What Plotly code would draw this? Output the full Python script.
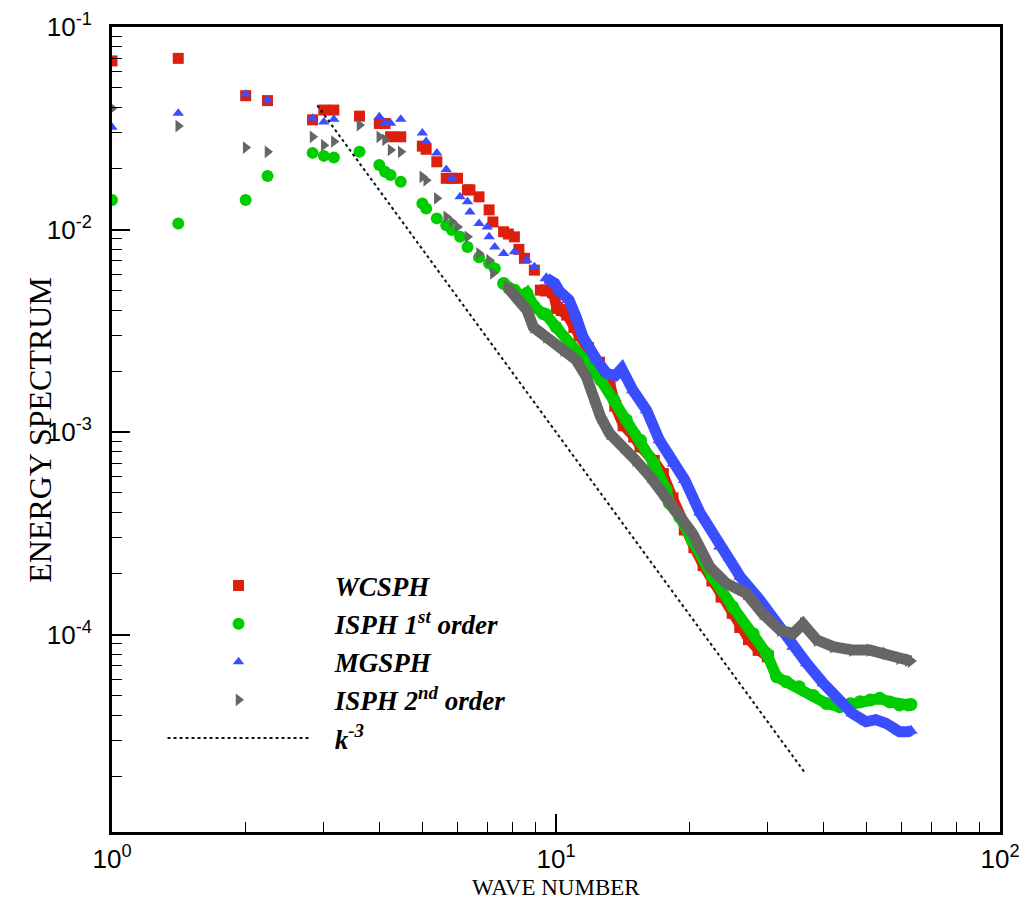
import plotly.graph_objects as go

# ---------------- data ----------------
# WCSPH
wcsph_sparse_k = [1.0, 1.41, 2.0, 2.24, 2.83, 3.0, 3.16, 3.61, 4.0, 4.12, 4.24, 4.47, 5.0, 5.1,
                  5.39, 5.66, 5.83, 6.0, 6.32, 6.4, 6.71, 7.07, 7.21, 7.62, 7.81, 8.06, 8.25,
                  8.49, 8.94, 9.22]
wcsph_sparse_e = [0.068, 0.070, 0.0458, 0.0433, 0.0348, 0.0389, 0.0389, 0.0363, 0.0334, 0.0334,
                  0.0287, 0.0287, 0.0258, 0.0249, 0.0216, 0.0179, 0.0179, 0.0179, 0.0157, 0.0157,
                  0.0145, 0.0125, 0.0109, 0.00975, 0.0095, 0.0092, 0.00798, 0.00721, 0.0063, 0.00502]
wcsph_band_k = [9.49, 9.85, 10.05, 10.3, 10.6, 11.0, 11.3, 11.8, 12.5, 13.2, 13.6, 14.2, 15.0,
                15.5, 16.6, 17.4, 18.3, 19.5, 20.5, 21.5, 22.5, 23.6, 25.0, 26.0, 27.2, 28.6, 30.0]
wcsph_band_e = [0.0050, 0.0049, 0.0041, 0.0040, 0.0038, 0.0033, 0.0030, 0.0026, 0.0022, 0.00174,
                0.00135, 0.00108, 0.00095, 0.00085, 0.00072, 0.00062, 0.00047, 0.00033, 0.00027,
                0.00022, 0.000185, 0.000154, 0.000128, 0.000109, 0.000095, 0.000084, 0.000078]

# ISPH 1st order
isph1_sparse_k = [1.0, 1.41, 2.0, 2.24, 2.83, 3.0, 3.16, 3.61, 4.0, 4.12, 4.24, 4.47, 5.0, 5.1,
                  5.39, 5.66, 5.83, 6.08, 6.32, 6.71, 7.07, 7.28]
isph1_sparse_e = [0.0140, 0.0107, 0.0140, 0.0184, 0.0239, 0.0231, 0.0227, 0.0242, 0.0208, 0.0193,
                  0.0186, 0.0172, 0.01345, 0.0127, 0.01135, 0.0105, 0.00995, 0.0092, 0.0082,
                  0.0073, 0.0068, 0.00642]
isph1_band_k = [7.62, 8.06, 8.43, 8.6, 8.94, 9.34, 9.5, 10.0, 10.8, 11.6, 12.6, 13.5, 14.4, 15.5,
                16.6, 17.7, 18.0, 19.0, 20.3, 22.5, 25.0, 27.8, 29.8, 31.4, 33.0, 35.3, 38.0,
                40.6, 43.5, 46.0, 48.4, 51.0, 53.6, 56.5, 59.4, 62.1, 63.0]
isph1_band_e = [0.00542, 0.00502, 0.00465, 0.00484, 0.00416, 0.00385, 0.0038, 0.0033, 0.00265,
                0.00227, 0.00181, 0.00144, 0.00115, 0.00091, 0.0007, 0.00052, 0.000445, 0.00038,
                0.00029, 0.000193, 0.000137, 0.000101, 0.0000807, 0.0000619, 0.0000585,
                0.0000552, 0.000050, 0.0000457, 0.000044, 0.0000455, 0.0000466, 0.0000475,
                0.0000484, 0.0000465, 0.0000449, 0.0000449, 0.0000452]

# MGSPH
mgsph_sparse_k = [1.0, 1.41, 2.0, 2.24, 2.83, 3.0, 3.16, 4.0, 4.12, 4.24, 4.47, 5.0, 5.1, 5.39,
                  5.66, 5.83, 6.08, 6.32, 6.4, 6.71, 7.0, 7.07, 7.28, 7.62, 8.06, 8.6, 8.94]
mgsph_sparse_e = [0.032, 0.0375, 0.0467, 0.0436, 0.0354, 0.034, 0.035, 0.036, 0.0335, 0.0335,
                  0.035, 0.030, 0.0272, 0.0239, 0.0198, 0.0179, 0.0145, 0.0137, 0.0122, 0.0107,
                  0.0103, 0.0092, 0.0082, 0.00762, 0.00777, 0.00706, 0.00654]
mgsph_band_k = [9.51, 9.94, 10.2, 10.7, 11.1, 11.5, 12.35, 13.0, 13.6, 14.06, 14.9, 16.0, 17.1,
                18.4, 19.5, 21.1, 23.4, 24.6, 26.0, 28.8, 31.5, 34.2, 36.7, 40.0, 43.5, 46.5,
                49.9, 52.5, 55.3, 59.4, 62.1, 63.0]
mgsph_band_e = [0.00574, 0.00542, 0.00493, 0.00449, 0.0037, 0.00295, 0.00227, 0.00195, 0.0019,
                0.00206, 0.00161, 0.00128, 0.00091, 0.0007, 0.00058, 0.0004, 0.000272, 0.00024,
                0.000193, 0.000148, 0.000113, 0.0000871, 0.0000721, 0.0000574, 0.0000475,
                0.0000408, 0.0000371, 0.0000380, 0.0000365, 0.0000331, 0.0000331, 0.0000335]

# ISPH 2nd order
isph2_sparse_k = [1.0, 1.41, 2.0, 2.24, 2.83, 3.0, 3.16, 3.61, 4.0, 4.12, 4.24, 4.47, 5.0, 5.1,
                  5.39, 5.66, 5.83, 6.0, 6.32, 6.71, 7.07, 7.21]
isph2_sparse_e = [0.0397, 0.0324, 0.0254, 0.0242, 0.0287, 0.0261, 0.0272, 0.0328, 0.0287, 0.0277,
                  0.0247, 0.0242, 0.0182, 0.0175, 0.01426, 0.01156, 0.01093, 0.0103, 0.0092,
                  0.00762, 0.00706, 0.00608]
isph2_band_k = [7.75, 8.29, 8.6, 8.89, 9.51, 10.4, 11.1, 11.7, 12.1, 12.6, 13.2, 14.2, 15.1, 16.3,
                17.4, 18.7, 20.3, 22.2, 24.2, 26.8, 29.2, 32.0, 34.2, 36.0, 38.7, 42.1, 46.5,
                50.9, 55.3, 59.4, 62.1, 63.0]
isph2_band_e = [0.00522, 0.0045, 0.0040, 0.0033, 0.00295, 0.00254, 0.00227, 0.00188, 0.00149,
                0.00119, 0.000984, 0.000846, 0.000728, 0.000602, 0.000500, 0.000412, 0.000316,
                0.000216, 0.000179, 0.00016, 0.000127, 0.000105, 0.000101, 0.000113, 0.000094,
                0.0000871, 0.0000838, 0.0000838, 0.0000807, 0.0000764, 0.0000749, 0.000074]

# k^-3 reference line (end points)
ref_k = [2.9, 36.4]
ref_e = [0.041, 0.0000207]

x_tickvals = [1, 10, 100]
x_ticktext = ["10<sup>0</sup>", "10<sup>1</sup>", "10<sup>2</sup>"]
y_tickvals = [1e-4, 1e-3, 1e-2, 1e-1]
y_ticktext = ["10<sup>-4</sup>", "10<sup>-3</sup>", "10<sup>-2</sup>", "10<sup>-1</sup>"]

# ---------------- styles ----------------
RED = "#DD1F0E"
GREEN = "#00CC00"
BLUE = "#3A4DFF"
GRAY = "#666666"
NB = "\u00a0\u00a0\u00a0"

series = [
    ("WCSPH", wcsph_sparse_k, wcsph_sparse_e, RED, "square", 11),
    ("ISPH 1<sup>st</sup> order", isph1_sparse_k, isph1_sparse_e, GREEN, "circle", 12),
    ("MGSPH", mgsph_sparse_k, mgsph_sparse_e, BLUE, "triangle-up", 10),
    ("ISPH 2<sup>nd</sup> order", isph2_sparse_k, isph2_sparse_e, GRAY, "triangle-right", 11),
]

fig = go.Figure()
for name, k, e, col, sym, sz in series:
    fig.add_trace(go.Scatter(
        x=k, y=e, mode="markers", name=NB + name,
        marker=dict(symbol=sym, size=sz, color=col, line=dict(width=0)),
    ))

fig.add_trace(go.Scatter(
    x=ref_k, y=ref_e, mode="lines", name=NB + "k<sup>-3</sup>",
    line=dict(color="#111111", width=2, dash="dot"),
))

bands = [
    (wcsph_band_k, wcsph_band_e, RED, "square", 12),
    (isph1_band_k, isph1_band_e, GREEN, "circle", 13),
    (mgsph_band_k, mgsph_band_e, BLUE, "triangle-up", 12),
    (isph2_band_k, isph2_band_e, GRAY, "triangle-right", 12),
]
for k, e, col, sym, sz in bands:
    fig.add_trace(go.Scatter(
        x=k, y=e, mode="lines+markers", showlegend=False,
        line=dict(color=col, width=11),
        marker=dict(symbol=sym, size=sz, color=col, line=dict(width=0)),
    ))

axis_common = dict(
    showgrid=False, zeroline=False, automargin=False,
    showline=True, linecolor="black", linewidth=3, mirror=True,
    ticks="inside", ticklen=18, tickwidth=2, tickcolor="black",
    tickfont=dict(family="Liberation Sans, Arial", size=26, color="black"),
    minor=dict(ticks="inside", ticklen=10, tickwidth=1, tickcolor="black", dtick="D1"),
    ticklabeloverflow="allow",
)

fig.update_xaxes(type="log", range=[0, 2], tickvals=x_tickvals, ticktext=x_ticktext,
                 ticklabelstandoff=2, **axis_common)
fig.update_yaxes(type="log", range=[-4.975, -1], tickvals=y_tickvals, ticktext=y_ticktext,
                 ticklabelstandoff=12, **axis_common)

fig.update_layout(
    width=1021, height=904,
    margin=dict(l=112, r=21, t=27, b=72, autoexpand=False),
    paper_bgcolor="white", plot_bgcolor="white",
    showlegend=True,
    legend=dict(
        x=0.0569, y=0.336, xanchor="left", yanchor="top",
        bgcolor="rgba(0,0,0,0)", borderwidth=0,
        itemwidth=142,
        font=dict(family="Liberation Serif", size=27, style="italic", weight="bold",
                  color="black"),
    ),
    annotations=[
        dict(text="ENERGY SPECTRUM", xref="paper", yref="paper", x=-0.082, y=0.5,
             xanchor="center", yanchor="middle", textangle=-90, showarrow=False,
             font=dict(family="Liberation Serif", size=32, color="black")),
        dict(text="WAVE NUMBER", xref="paper", yref="paper", x=0.5, y=-0.069,
             xanchor="center", yanchor="middle", showarrow=False,
             font=dict(family="Liberation Serif", size=23, color="black")),
    ],
)

# remove the default 8px page margin so the figure fills the 1021x904 window exactly
fig.write_html(
    "out.html",
    config={"displayModeBar": False},
    post_script="document.body.style.margin='0px';document.body.style.overflow='hidden';",
)
